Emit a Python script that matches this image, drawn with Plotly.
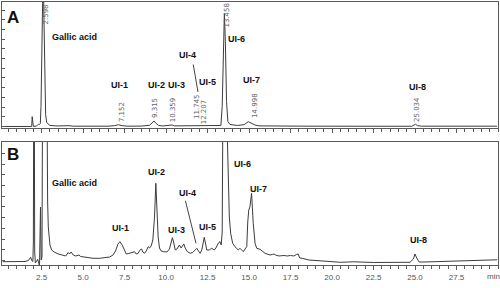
import plotly.graph_objects as go

# ---------------- data ----------------
# Panel A: standard / chromatogram A  (time in min, detector signal, arbitrary units)
time_a = [0.15, 1.5, 1.85, 1.9, 1.93, 1.96, 2.0, 2.2, 2.3, 2.38, 2.42, 2.46, 2.5, 2.56, 2.62,
          2.68, 2.74, 2.8, 2.9, 3.0, 3.5, 3.9, 4.0, 4.15, 4.4, 5.0, 6.5, 6.9, 7.13, 7.35, 7.7,
          8.5, 9.0, 9.15, 9.27, 9.4, 9.55, 9.8, 10.2, 10.36, 10.5, 11.5, 11.75, 12.0, 12.21,
          12.5, 13.2, 13.3, 13.38, 13.45, 13.51, 13.57, 13.64, 13.72, 13.85, 14.3, 14.7, 14.95,
          15.15, 15.35, 15.6, 16.2, 16.3, 16.4, 17.8, 17.9, 18.0, 18.5, 24.8, 24.95, 25.03,
          25.15, 25.4, 29.95]
signal_a = [0.0, 0.0, 0.3, 0.0, 9.8, 0.5, 0.0, 0.5, 2.2, 2.2, 3.0, 20.0, 90.0, 126.0, 126.0,
            60.0, 12.0, 4.0, 2.0, 1.0, 0.5, 0.8, 1.0, 0.8, 0.3, 0.2, 0.3, 0.8, 1.8, 0.8, 0.3,
            0.4, 1.2, 3.5, 5.5, 3.0, 1.0, 0.5, 0.7, 1.5, 0.6, 0.5, 0.9, 0.5, 0.8,
            0.5, 0.6, 1.0, 20.0, 90.0, 113.0, 85.0, 25.0, 5.0, 2.0, 1.0, 1.8, 4.8,
            3.0, 1.5, 0.6, 0.5, 1.0, 0.5, 0.6, 0.9, 0.5, 0.3, 0.2, 1.0, 2.2,
            0.8, 0.3, 0.3]

# Panel B: sample chromatogram
time_b = [0.15, 1.0, 1.5, 1.7, 1.84, 1.9, 1.97, 2.0, 2.02, 2.04, 2.06, 2.08, 2.12, 2.2, 2.26,
          2.31, 2.37, 2.43, 2.47, 2.52, 2.56, 2.62, 2.7, 2.76, 2.82, 2.86, 2.9, 2.95, 3.0, 3.1,
          3.25, 3.5, 3.8, 3.95, 4.1, 4.18, 4.28, 4.4, 4.55, 4.75, 4.85, 5.0, 5.3, 5.6, 6.0,
          6.3, 6.6, 6.8, 6.95, 7.1, 7.22, 7.35, 7.5, 7.6, 7.75, 7.9, 8.0, 8.1, 8.2, 8.3,
          8.45, 8.52, 8.6, 8.7, 8.8, 8.92, 9.0, 9.1, 9.2, 9.3, 9.38, 9.45, 9.52, 9.6, 9.7,
          9.85, 10.05, 10.2, 10.3, 10.38, 10.45, 10.55, 10.65, 10.8, 10.9, 11.0, 11.07, 11.15,
          11.28, 11.45, 11.6, 11.75, 11.85, 11.95, 12.05, 12.15, 12.25, 12.3, 12.38, 12.45,
          12.6, 12.75, 12.9, 13.0, 13.15, 13.25, 13.32, 13.38, 13.42, 13.5, 13.6, 13.68,
          13.75, 13.81, 13.89, 14.01, 14.15, 14.35, 14.45, 14.65, 14.8, 14.86, 14.92, 14.98,
          15.05, 15.15, 15.25, 15.36, 15.46, 15.66, 15.96, 16.26, 16.4, 16.5, 16.6, 16.8,
          17.1, 17.3, 17.5, 17.7, 17.85, 17.96, 18.05, 18.2, 18.6, 19.0, 19.6, 20.5, 21.0,
          21.3, 22.5, 24.0, 24.7, 24.9, 25.0, 25.1, 25.25, 25.6, 26.1, 27.0, 28.0, 29.0, 29.95]
signal_b = [0.3, 0.3, 0.5, 1.5, 4.7, 1.5, 0.5, 20.0, 150.0, 300.0, 150.0, 10.0, -1.0, 1.0, 2.7,
            0.0, -4.0, 55.0, 2.0, 5.0, 200.0, 500.0, 500.0, 300.0, 110.0, 60.0, 35.0, 22.0, 17.0, 12.0,
            10.0, 8.0, 6.5, 6.0, 9.5, 8.0, 10.0, 7.0, 6.0, 7.0, 5.5, 5.0, 4.0, 3.7, 3.7,
            4.0, 5.0, 7.0, 11.0, 18.0, 20.3, 17.0, 11.0, 8.0, 8.5, 9.0, 9.5, 10.3, 8.0, 8.5,
            12.5, 13.0, 10.0, 8.7, 11.0, 15.3, 14.0, 16.0, 22.0, 45.0, 78.7, 55.0, 25.0, 14.0, 11.0,
            10.3, 10.0, 13.0, 20.0, 24.3, 20.0, 12.0, 13.0, 17.0, 14.0, 16.0, 18.0, 14.0,
            10.3, 8.7, 9.5, 12.0, 13.7, 11.0, 8.7, 12.0, 23.0, 24.7, 18.0, 12.0,
            12.0, 13.7, 12.0, 14.0, 19.0, 20.3, 17.0, 30.0, 150.0, 350.0, 350.0, 130.0,
            72.0, 45.0, 28.7, 18.7, 15.3, 12.0, 13.7, 10.3, 14.0, 15.3, 40.0, 52.0,
            55.0, 68.7, 38.7, 18.7, 13.7, 12.7, 8.7, 7.0, 7.5, 8.0, 7.0, 6.0,
            6.5, 6.0, 6.5, 6.0, 7.5, 8.0, 4.0, 3.7, 2.0, 1.5, 0.3, -0.3, 0.0,
            0.2, -0.5, -0.5, -0.3, 3.0, 8.0, 4.0, 0.0, 0.0, 0.3, 0.8, 1.2, 2.0, 2.2]

retention_times_a = [2.598, 7.152, 9.315, 10.359, 11.745, 12.207, 13.458, 14.998, 25.034]
peak_names = ["Gallic acid", "UI-1", "UI-2", "UI-3", "UI-4", "UI-5", "UI-6", "UI-7", "UI-8"]
x_tick_values = [2.5, 5.0, 7.5, 10.0, 12.5, 15.0, 17.5, 20.0, 22.5, 25.0, 27.5]
x_tick_labels = ["2.5", "5.0", "7.5", "10.0", "12.5", "15.0", "17.5", "20.0", "22.5", "25.0", "27.5"]
x_unit = "min"
panel_letters = ["A", "B"]

# ---------------- layout helpers ----------------
LINE = "#5a5a5a"
TRACE = "#3c3c3c"
BOLD = dict(family="Liberation Sans, Arial, sans-serif", size=9, color="#111")
RTFONT = dict(family="DejaVu Sans, sans-serif", size=7, color="#666")

fig = go.Figure()
fig.add_trace(go.Scatter(x=time_a, y=signal_a, mode="lines", xaxis="x", yaxis="y",
                         line=dict(color=TRACE, width=1), hoverinfo="skip"))
fig.add_trace(go.Scatter(x=time_b, y=signal_b, mode="lines", xaxis="x2", yaxis="y2",
                         line=dict(color=TRACE, width=1), hoverinfo="skip"))

xcommon = dict(range=[0.11, 30], showline=True, linecolor=LINE, linewidth=1, mirror=True,
               showgrid=False, zeroline=False, ticks="outside", ticklen=4, tickcolor=LINE,
               minor=dict(dtick=0.5, tick0=0, ticks="outside", ticklen=3, tickcolor=LINE))
ycommon = dict(showline=True, linecolor=LINE, linewidth=1, mirror=True, showgrid=False,
               zeroline=False, ticks="inside", ticklen=3, tickcolor=LINE, showticklabels=False)

fig.update_layout(
    width=500, height=288, margin=dict(l=2, r=2, t=2, b=23),
    paper_bgcolor="white", plot_bgcolor="white", showlegend=False,
    xaxis=dict(**xcommon, anchor="y", tickvals=x_tick_values, showticklabels=False),
    yaxis=dict(**ycommon, anchor="x", domain=[0.521, 1.0], range=[-1.5, 124.5], dtick=9.7, tick0=0),
    xaxis2=dict(**xcommon, anchor="y2", tickvals=x_tick_values, ticktext=x_tick_labels,
                tickfont=dict(family="Liberation Sans, Arial, sans-serif", size=8, color="#555")),
    yaxis2=dict(**ycommon, anchor="x2", domain=[0.0, 0.4677], range=[-3, 120], dtick=10.7, tick0=1.5),
)

ann = []
# retention time labels (panel A), rotated
rt_pos = [(2.79, 112.5), (7.38, 14), (9.33, 18.5), (10.43, 16.5), (11.86, 20.5),
          (12.30, 14.5), (13.64, 111.5), (15.35, 21.5), (25.12, 16.5)]
for rt, (px, py) in zip(retention_times_a, rt_pos):
    ann.append(dict(x=px, y=py, xref="x", yref="y", text=f"{rt:.3f}", textangle=-90,
                    showarrow=False, font=RTFONT))

# peak names panel A
name_pos_a = [(4.45, 89.5), (7.22, 41.5), (9.45, 41.5), (10.60, 41.5), (11.29, 71.5),
              (12.49, 44.5), (14.27, 87.5), (15.12, 46.5), (25.15, 39.5)]
for name, (px, py) in zip(peak_names, name_pos_a):
    ann.append(dict(x=px, y=py, xref="x", yref="y", text=f"<b>{name}</b>", showarrow=False, font=BOLD))
# peak names panel B
name_pos_b = [(4.48, 78.5), (7.28, 33.7), (9.45, 90.3), (10.63, 32), (11.26, 68.7),
              (12.49, 34.7), (14.63, 98), (15.54, 72.7), (25.21, 22)]
for name, (px, py) in zip(peak_names, name_pos_b):
    ann.append(dict(x=px, y=py, xref="x2", yref="y2", text=f"<b>{name}</b>", showarrow=False, font=BOLD))

# leader lines for UI-4
ann.append(dict(x=11.92, y=34.5, xref="x", yref="y", ax=11.62, ay=63.5, axref="x", ayref="y",
                text="", showarrow=True, arrowhead=0, arrowwidth=1, arrowcolor="#444"))
ann.append(dict(x=11.80, y=18.7, xref="x2", yref="y2", ax=11.14, ay=62.7, axref="x2", ayref="y2",
                text="", showarrow=True, arrowhead=0, arrowwidth=1, arrowcolor="#444"))

# panel letters
LET = dict(family="Liberation Sans, Arial, sans-serif", size=17, color="#111")
ann.append(dict(x=0.77, y=109.5, xref="x", yref="y", text=f"<b>{panel_letters[0]}</b>", showarrow=False, font=LET))
ann.append(dict(x=0.77, y=107, xref="x2", yref="y2", text=f"<b>{panel_letters[1]}</b>", showarrow=False, font=LET))

# unit label at the end of the time axis
ann.append(dict(x=29.75, y=-0.0456, xref="x2", yref="paper", text=x_unit, showarrow=False,
                yanchor="middle", font=dict(family="Liberation Sans, Arial, sans-serif", size=8, color="#555")))

fig.update_layout(annotations=ann)
fig.write_html("out.html")
